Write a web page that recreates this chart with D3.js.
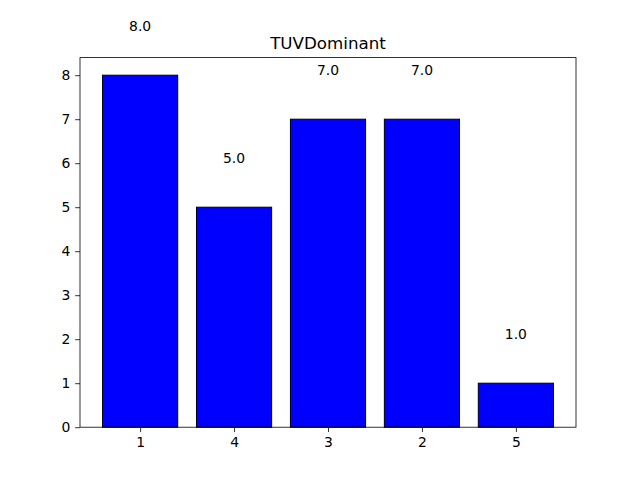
<!DOCTYPE html>
<meta charset="utf-8">
<script src="https://d3js.org/d3.v7.min.js"></script>
<style>
  body { margin: 0; background: #fff; }
  text { font-family: "DejaVu Sans", sans-serif; }
</style>
<div id="chart"></div>
<script>

// data
var categories = ["1", "4", "3", "2", "5"];
var counts = [8, 5, 7, 7, 1];
var yTicks = [0, 1, 2, 3, 4, 5, 6, 7, 8];

var W = 640, H = 480;
var margin = {top: 57.6, right: 64, bottom: 52.8, left: 80},
    width = W - margin.left - margin.right,
    height = H - margin.top - margin.bottom;

var svg = d3.select("#chart")
  .append("svg")
    .attr("width", W)
    .attr("height", H);

var g = svg.append("g")
    .attr("transform", "translate(" + margin.left + "," + margin.top + ")");

// positions 0..n-1 like matplotlib, with 5% margins
var x = d3.scaleLinear()
  .domain([-0.64, categories.length - 1 + 0.64])
  .range([0, width]);

var y = d3.scaleLinear()
  .domain([0, 8.4])
  .range([height, 0]);

var barW = 0.8;

// bars
g.selectAll("rect.bar")
  .data(counts)
  .enter()
  .append("rect")
    .attr("class", "bar")
    .attr("x", function(d, i) { return x(i - barW / 2); })
    .attr("y", function(d) { return y(d); })
    .attr("width", x(barW) - x(0))
    .attr("height", function(d) { return y(0) - y(d); })
    .attr("fill", "#0000ff")
    .attr("stroke", "#000")
    .attr("stroke-width", 1);

// value labels above bars
g.selectAll("text.val")
  .data(counts)
  .enter()
  .append("text")
    .attr("class", "val")
    .attr("x", function(d, i) { return x(i); })
    .attr("y", function(d) { return y(d + 1); })
    .attr("text-anchor", "middle")
    .attr("font-size", "13.9px")
    .text(function(d) { return d.toFixed(1); });

// x axis
var xAxis = g.append("g")
  .attr("transform", "translate(0," + height + ")")
  .call(d3.axisBottom(x)
    .tickValues(d3.range(categories.length))
    .tickFormat(function(i) { return categories[i]; })
    .tickSize(4.86)
    .tickPadding(4.86));

// y axis
var yAxis = g.append("g")
  .call(d3.axisLeft(y)
    .tickValues(yTicks)
    .tickFormat(d3.format("d"))
    .tickSize(4.86)
    .tickPadding(4.86));

[xAxis, yAxis].forEach(function(a) {
  a.select(".domain").remove();
  a.selectAll("text").attr("font-size", "13.9px").attr("fill", "#000")
    .attr("font-family", "DejaVu Sans, sans-serif");
  a.selectAll("line").attr("stroke", "#000").attr("stroke-width", 0.8);
});

// frame
g.append("rect")
  .attr("width", width)
  .attr("height", height)
  .attr("fill", "none")
  .attr("stroke", "#000")
  .attr("stroke-width", 0.8);

// title
g.append("text")
  .attr("x", width / 2)
  .attr("y", -8.3)
  .attr("text-anchor", "middle")
  .attr("font-size", "16.7px")
  .text("TUVDominant");

</script>
